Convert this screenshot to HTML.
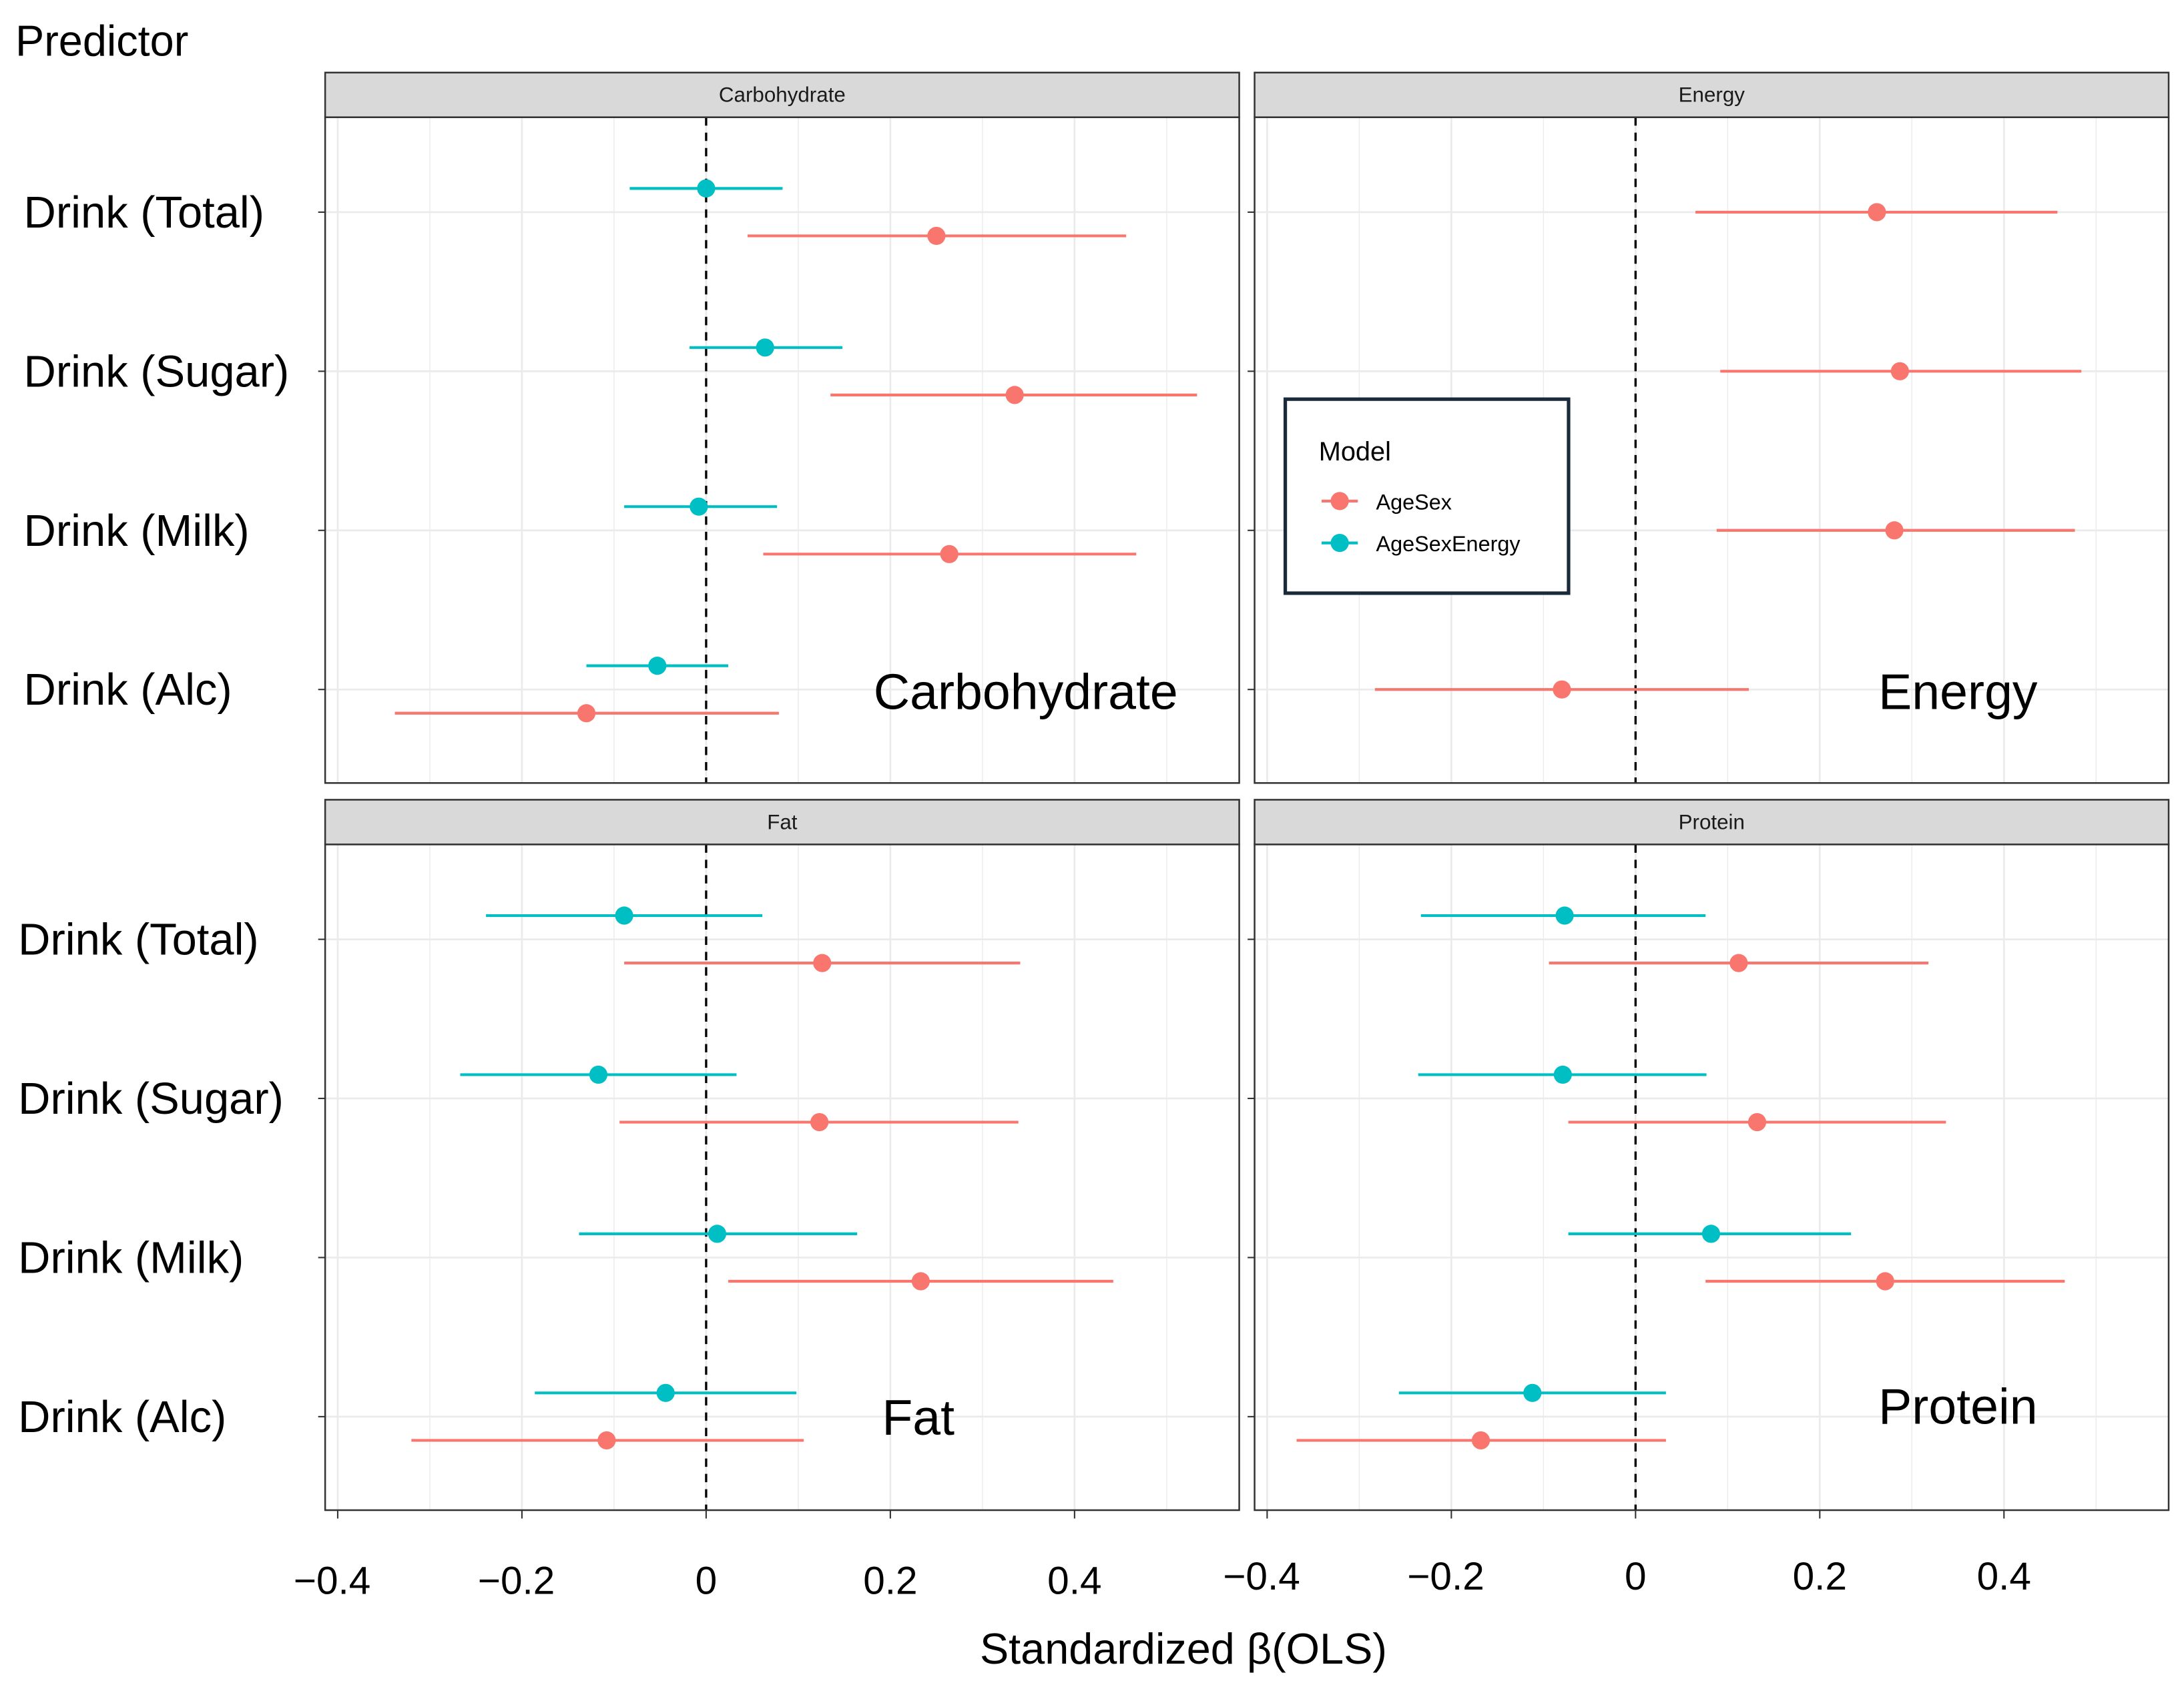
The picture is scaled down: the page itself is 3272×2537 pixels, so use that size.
<!DOCTYPE html>
<html><head><meta charset="utf-8"><style>
html,body{margin:0;padding:0;background:#fff}
svg{display:block;font-family:"Liberation Sans",sans-serif}
</style></head><body>
<svg id="chart" width="3272" height="2537" viewBox="0 0 1565 1213" preserveAspectRatio="none" xmlns="http://www.w3.org/2000/svg">
<text x="11" y="40" font-size="31">Predictor</text>
<text x="848" y="1192" font-size="31" text-anchor="middle">Standardized β(OLS)</text>
<g id="panels"></g>
<g>
<rect x="921" y="286" width="203" height="139" fill="#fff" stroke="#1a2a3a" stroke-width="2.5"/>
<text x="945" y="330" font-size="19">Model</text>
<line x1="947" x2="973" y1="359" y2="359" stroke="#F8766D" stroke-width="2"/>
<circle cx="960" cy="359" r="6.5" fill="#F8766D"/>
<text x="986" y="365" font-size="15.5">AgeSex</text>
<line x1="947" x2="973" y1="389" y2="389" stroke="#00BFC4" stroke-width="2"/>
<circle cx="960" cy="389" r="6.5" fill="#00BFC4"/>
<text x="986" y="395" font-size="15.5">AgeSexEnergy</text>
</g>
</svg>
<script>
const categories = ["Drink (Total)","Drink (Sugar)","Drink (Milk)","Drink (Alc)"];
const panelNames = ["Carbohydrate","Energy","Fat","Protein"];
const xTicks = [-0.4,-0.2,0,0.2,0.4];
const xTickLabels = ["\u22120.4","\u22120.2","0","0.2","0.4"];
const carbRed = [[0.25,0.045,0.456],[0.335,0.135,0.533],[0.264,0.062,0.467],[-0.13,-0.338,0.079]];
const carbTeal = [[0.0,-0.083,0.083],[0.064,-0.018,0.148],[-0.008,-0.089,0.077],[-0.053,-0.13,0.024]];
const energyRed = [[0.262,0.065,0.458],[0.287,0.092,0.484],[0.281,0.088,0.477],[-0.08,-0.283,0.123]];
const energyTeal = [];
const fatRed = [[0.126,-0.089,0.341],[0.123,-0.094,0.339],[0.233,0.024,0.442],[-0.108,-0.32,0.106]];
const fatTeal = [[-0.089,-0.239,0.061],[-0.117,-0.267,0.033],[0.012,-0.138,0.164],[-0.044,-0.186,0.098]];
const proteinRed = [[0.112,-0.094,0.318],[0.132,-0.073,0.337],[0.271,0.076,0.466],[-0.168,-0.368,0.033]];
const proteinTeal = [[-0.077,-0.233,0.076],[-0.079,-0.236,0.077],[0.082,-0.073,0.234],[-0.112,-0.257,0.033]];

const NS="http://www.w3.org/2000/svg";
const root=document.getElementById('panels');
function mk(tag,attrs,parent){const e=document.createElementNS(NS,tag);for(const k in attrs)e.setAttribute(k,attrs[k]);(parent||root).appendChild(e);return e;}
const layout=[
 {x0:233,x1:888,y0:52,zero:506,red:carbRed,teal:carbTeal,lab:[626,508],labY:true,tickLabY:0},
 {x0:899,x1:1554,y0:52,zero:1172,red:energyRed,teal:energyTeal,lab:[1346,508],labY:false,tickLabY:0},
 {x0:233,x1:888,y0:573,zero:506,red:fatRed,teal:fatTeal,lab:[632,1028],labY:true,tickLabY:1142},
 {x0:899,x1:1554,y0:573,zero:1172,red:proteinRed,teal:proteinTeal,lab:[1346,1020],labY:false,tickLabY:1139}
];
const unit=660;
const catOff=[100,214,328,442];
layout.forEach((p,pi)=>{
 const g=mk('g',{});
 
 
 const top=p.y0+32, bot=p.y0+509;
 const X=v=>p.zero+v*unit;
 const Y=i=>p.y0+catOff[i];
 mk('rect',{x:p.x0,y:top,width:p.x1-p.x0,height:bot-top,fill:'#fff'},g);
 for(let v=-0.4;v<=0.55;v+=0.1){const xv=X(Math.round(v*10)/10);mk('line',{x1:xv,x2:xv,y1:top,y2:bot,stroke:'#ebebeb','stroke-width':Math.round(v*10)%2===0?1.3:0.7},g);}
 categories.forEach((c,i)=>{mk('line',{x1:p.x0,x2:p.x1,y1:Y(i),y2:Y(i),stroke:'#ebebeb','stroke-width':1.3},g);
  mk('line',{x1:p.x0-5,x2:p.x0,y1:Y(i),y2:Y(i),stroke:'#333','stroke-width':1},g);
  if(p.labY){const t=mk('text',{x:pi<2?17:13,y:Y(i)+11,'font-size':32},g);t.textContent=c;
   
   }
 });
 mk('line',{x1:X(0),x2:X(0),y1:top,y2:bot,stroke:'#000','stroke-width':1.6,'stroke-dasharray':'6,5'},g);
 const hasTeal=p.teal.length>0;
 const draw=(arr,col,off,nm)=>arr.forEach((d,i)=>{const y=Y(i)+off;
  const l=mk('line',{x1:X(d[1]),x2:X(d[2]),y1:y,y2:y,stroke:col,'stroke-width':2},g);
  
  
  const c=mk('circle',{cx:X(d[0]),cy:y,r:6.5,fill:col},g);
  
  });
 draw(p.red,'#F8766D',hasTeal?17:0,'agesex');
 draw(p.teal,'#00BFC4',-17,'agesexenergy');
 mk('rect',{x:p.x0,y:top,width:p.x1-p.x0,height:bot-top,fill:'none',stroke:'#333','stroke-width':1.2},g);
 mk('rect',{x:p.x0,y:p.y0,width:p.x1-p.x0,height:32,fill:'#d9d9d9',stroke:'#333','stroke-width':1.2},g);
 const st=mk('text',{x:(p.x0+p.x1)/2,y:p.y0+21,'font-size':15,'text-anchor':'middle',fill:'#1a1a1a'},g);st.textContent=panelNames[pi];
 
 
 const pl=mk('text',{x:p.lab[0],y:p.lab[1],'font-size':36},g);pl.textContent=panelNames[pi];
 
 
 if(p.tickLabY){xTicks.forEach((v,k)=>{mk('line',{x1:X(v),x2:X(v),y1:bot,y2:bot+6,stroke:'#333','stroke-width':1},g);
  const t=mk('text',{x:X(v)-(v<0?4:0),y:p.tickLabY,'font-size':28,'text-anchor':'middle'},g);t.textContent=xTickLabels[k];
  
  });}
});
</script>
</body></html>
